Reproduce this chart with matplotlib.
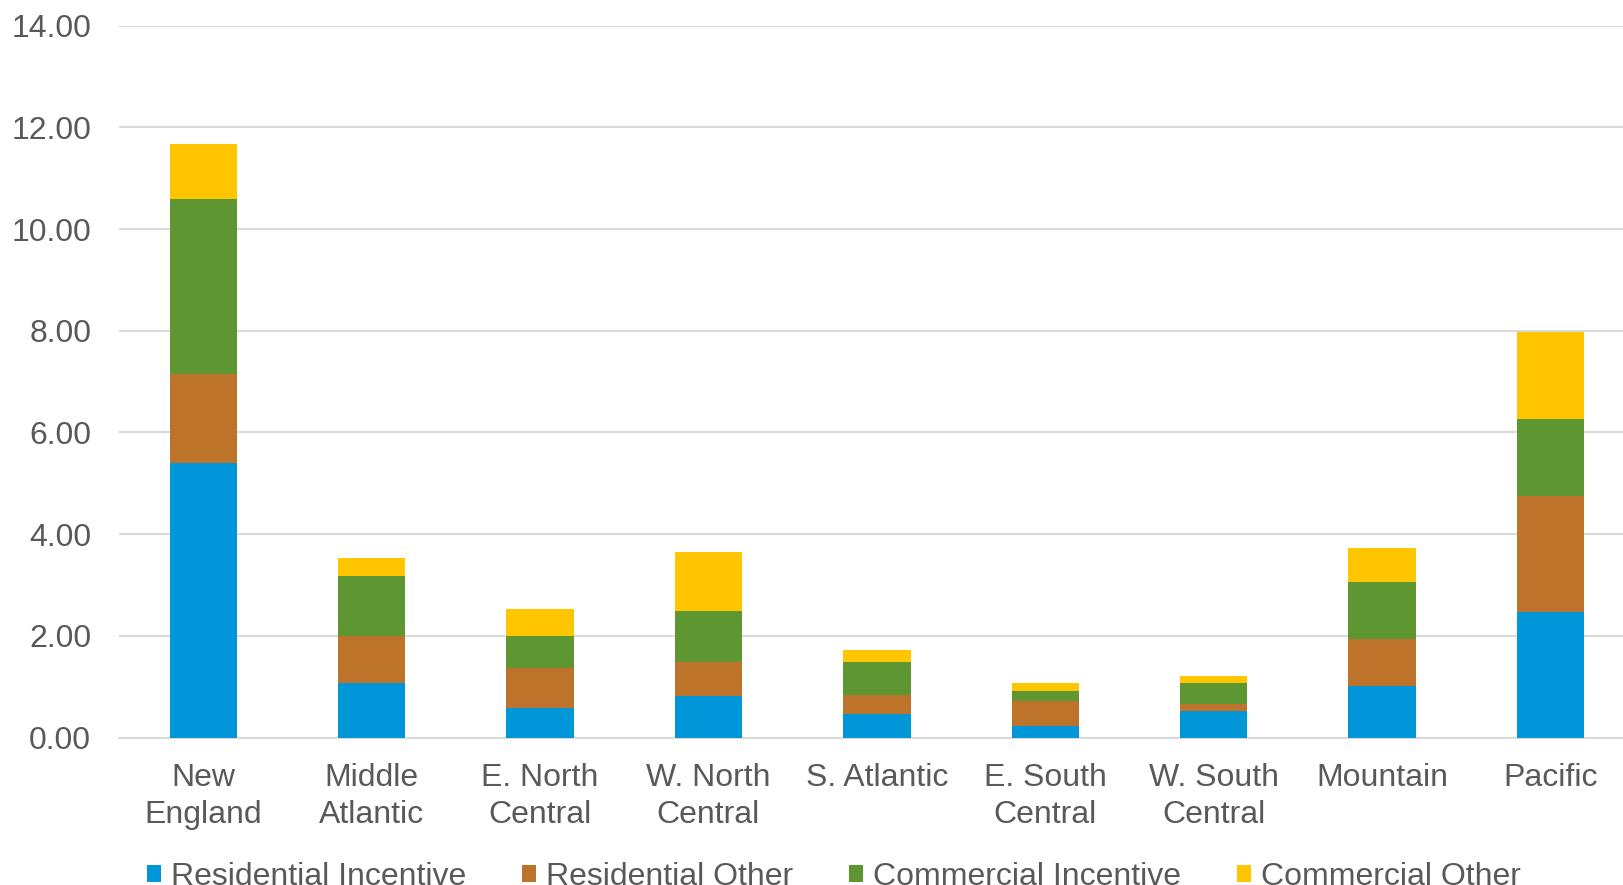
import matplotlib
matplotlib.use("Agg")
import matplotlib.pyplot as plt
import numpy as np

categories = ["New\nEngland", "Middle\nAtlantic", "E. North\nCentral", "W. North\nCentral",
              "S. Atlantic", "E. South\nCentral", "W. South\nCentral", "Mountain", "Pacific"]
series_names = ["Residential Incentive", "Residential Other", "Commercial Incentive", "Commercial Other"]
res_incentive = [5.39, 1.07, 0.58, 0.81, 0.46, 0.22, 0.52, 1.01, 2.46]
res_other     = [1.75, 0.92, 0.78, 0.67, 0.37, 0.50, 0.14, 0.93, 2.29]
com_incentive = [3.45, 1.19, 0.64, 1.00, 0.66, 0.19, 0.42, 1.11, 1.52]
com_other     = [1.09, 0.35, 0.53, 1.16, 0.23, 0.16, 0.12, 0.68, 1.71]
colors = ["#0096D8", "#BD732A", "#5E9732", "#FFC600"]
yticks = [0, 2, 4, 6, 8, 10, 12, 14]

plt.rcParams['font.family'] = ['Liberation Sans', 'DejaVu Sans']
text_color = "#595959"
fs = 23

fig = plt.figure(figsize=(16.23, 8.85), dpi=100)
ax = fig.add_axes([119/1623, 147.5/885, 1 - 119/1623, (859.3-147.5)/885])

x = np.arange(len(categories))
bottom = np.zeros(len(categories))
handles = []
for name, vals, c in zip(series_names, [res_incentive, res_other, com_incentive, com_other], colors):
    b = ax.bar(x, vals, width=0.4, bottom=bottom, color=c, label=name, zorder=3)
    handles.append(b)
    bottom += np.array(vals)

ax.set_xlim(-0.5, 8.43)
ax.set_ylim(0, 14)
ax.set_yticks(yticks)
ax.set_yticklabels([f"{v:.2f}" for v in yticks])
ax.set_xticks(x)
ax.set_xticklabels(categories, linespacing=1.3)
ax.tick_params(axis='both', length=0, labelsize=fs, labelcolor=text_color)
ax.tick_params(axis='y', pad=20)
ax.tick_params(axis='x', pad=18.5)
ax.grid(axis='y', color="#D9D9D9", linewidth=1.5, zorder=0)
ax.set_axisbelow(True)
for s in ["top", "right", "left"]:
    ax.spines[s].set_visible(False)
ax.spines["bottom"].set_color("#D9D9D9")
ax.spines["bottom"].set_linewidth(1.5)

leg = fig.legend(handles=handles, labels=series_names, loc='center left',
                 bbox_to_anchor=(147/1623, 8/885), ncol=4, frameon=False,
                 fontsize=fs, handlelength=0.45, handleheight=0.45,
                 handletextpad=0.3, columnspacing=1.75, borderpad=0, borderaxespad=0)
for t in leg.get_texts():
    t.set_color(text_color)

fig.savefig("out.png", dpi=100)
